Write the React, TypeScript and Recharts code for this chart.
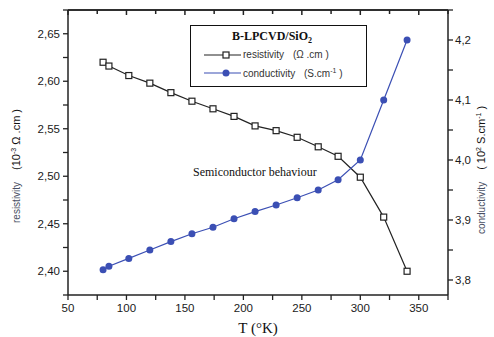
import { ComposedChart, Legend, Line, ReferenceLine, XAxis, YAxis } from "recharts"

document.body.style.margin = "0"

// temperature (K) and the two measured series
const temperature = [80, 85, 102, 120, 138, 156, 174, 192, 210, 228, 246, 264, 281, 300, 320, 340]
const resistivity = [2.62, 2.616, 2.606, 2.598, 2.588, 2.579, 2.571, 2.563, 2.553, 2.548, 2.541, 2.531, 2.521, 2.499, 2.457, 2.4]
const conductivity = [3.817, 3.823, 3.836, 3.85, 3.864, 3.877, 3.888, 3.902, 3.914, 3.925, 3.937, 3.95, 3.967, 4.0, 4.1, 4.2]

const xTicks = [50, 75, 100, 125, 150, 175, 200, 225, 250, 275, 300, 325, 350, 375]
const leftTicks = [2.375, 2.4, 2.425, 2.45, 2.475, 2.5, 2.525, 2.55, 2.575, 2.6, 2.625, 2.65, 2.675]
const rightTicks = [3.8, 3.85, 3.9, 3.95, 4.0, 4.05, 4.1, 4.15, 4.2, 4.25]

const data = temperature.map((t, i) => ({ t, res: resistivity[i], cond: conductivity[i] }))

const AXIS = "#222"
const BLUE = "#3b4fb4"
const SANS = "'Liberation Sans', Arial, sans-serif"
const SERIF = "'Liberation Serif', 'Times New Roman', serif"

const comma = (v: number, digits: number) => v.toFixed(digits).replace(".", ",")

function BottomText({ x, y, payload }: any) {
  if (payload.value % 50 !== 0 || payload.value > 350) return <g />
  return (
    <text x={x} y={y + 9} textAnchor="middle" fontSize={11.5} fontFamily={SANS} fill="#1a1a1a">
      {payload.value}
    </text>
  )
}

function TopTick({ x, y, payload }: any) {
  const major = payload.value % 50 === 0
  return (
    <g>
      <line x1={x} x2={x} y1={y} y2={y + (major ? 5 : 4)} stroke={AXIS} strokeWidth={1.5} />
    </g>
  )
}

function LeftText({ x, y, payload }: any) {
  if (Math.round(payload.value * 1000) % 50 !== 0) return <g />
  return (
    <text x={x} y={y + 4} textAnchor="end" fontSize={11.5} fontFamily={SANS} fill="#1a1a1a">
      {comma(payload.value, 2)}
    </text>
  )
}

function RightText({ x, y, payload }: any) {
  if (Math.round(payload.value * 100) % 10 !== 0 || payload.value > 4.2) return <g />
  return (
    <text x={x} y={y + 4} textAnchor="start" fontSize={11.5} fontFamily={SANS} fill="#1a1a1a">
      {comma(payload.value, 1)}
    </text>
  )
}

function SquareDot({ cx, cy }: any) {
  return <rect x={cx - 3} y={cy - 3} width={6} height={6} fill="#fff" stroke="#222" strokeWidth={1.2} />
}

function LegendBox() {
  return (
    <div
      style={{
        width: 175,
        height: 60,
        border: "1.3px solid #111",
        background: "#fff",
        position: "relative",
        fontFamily: SANS,
        fontSize: 10,
        color: "#333",
      }}
    >
      <div style={{ position: "absolute", left: 41, top: 3, fontFamily: SERIF, fontWeight: 700, fontSize: 12, color: "#111" }}>
        B-LPCVD/SiO<sub style={{ fontSize: 8 }}>2</sub>
      </div>
      <svg width={50} height={60} style={{ position: "absolute", left: 0, top: 0 }}>
        <line x1={13} x2={50} y1={29} y2={29} stroke="#222" strokeWidth={1.2} />
        <rect x={32} y={26} width={6} height={6} fill="#fff" stroke="#222" strokeWidth={1.2} />
        <line x1={13} x2={50} y1={47} y2={47} stroke={BLUE} strokeWidth={1.2} />
        <circle cx={35} cy={47} r={3.5} fill={BLUE} />
      </svg>
      <div style={{ position: "absolute", left: 52, top: 23, whiteSpace: "nowrap" }}>
        resistivity <span style={{ marginLeft: 6 }}>(Ω .cm )</span>
      </div>
      <div style={{ position: "absolute", left: 52, top: 41, whiteSpace: "nowrap" }}>
        conductivity <span style={{ marginLeft: 6 }}>(S.cm<sup style={{ fontSize: 7 }}>-1</sup> )</span>
      </div>
    </div>
  )
}

// axis titles and the annotation, drawn over the chart
function Annotations() {
  return (
    <svg width={494} height={337} style={{ position: "absolute", left: 0, top: 0, pointerEvents: "none" }}>
      <text x={258} y={333} textAnchor="middle" fontFamily={SERIF} fontSize={15} fill="#111">
        T (°K)
      </text>
      <text x={20} y={166} transform="rotate(-90 20 166)" textAnchor="middle" fontFamily={SANS} fontSize={11} fill="#111">
        <tspan fill="#4a4f63" fontSize={10}>resistivity</tspan>
        <tspan dx={12}>(10</tspan>
        <tspan dy={-4} fontSize={7}>-3</tspan>
        <tspan dy={4}> Ω .cm )</tspan>
      </text>
      <text x={485} y={170} transform="rotate(-90 485 170)" textAnchor="middle" fontFamily={SANS} fontSize={11} fill="#111">
        <tspan fill="#4a4f63" fontSize={10}>conductivity</tspan>
        <tspan dx={12}>( 10</tspan>
        <tspan dy={-4} fontSize={7}>2</tspan>
        <tspan dy={4}> S.cm</tspan>
        <tspan dy={-4} fontSize={7}>-1</tspan>
        <tspan dy={4}> )</tspan>
      </text>
      <text x={193} y={176} fontFamily={SERIF} fontSize={12} fill="#111">
        Semiconductor behaviour
      </text>
    </svg>
  )
}

export default function App() {
  return (
    <div style={{ position: "relative", width: 494, height: 337 }}>
      <ComposedChart width={494} height={337} data={data} margin={{ top: 0, right: 0, bottom: 0, left: 0 }}>
        <XAxis
          dataKey="t"
          type="number"
          domain={[50, 375]}
          ticks={xTicks}
          interval={0}
          height={42}
          tickSize={5}
          tickMargin={3}
          tickLine={{ stroke: AXIS, strokeWidth: 1.3 }}
          axisLine={{ stroke: AXIS, strokeWidth: 1.5 }}
          tick={<BottomText />}
        />
        <XAxis
          xAxisId="top"
          dataKey="t"
          type="number"
          orientation="top"
          domain={[50, 375]}
          ticks={xTicks}
          interval={0}
          height={10}
          tickSize={0}
          tickMargin={0}
          tickLine={false}
          axisLine={{ stroke: AXIS, strokeWidth: 1.5 }}
          tick={<TopTick />}
        />
        <YAxis
          yAxisId="left"
          type="number"
          domain={[2.375, 2.675]}
          ticks={leftTicks}
          interval={0}
          width={68}
          tickSize={5}
          tickMargin={3}
          tickLine={{ stroke: AXIS, strokeWidth: 1.3 }}
          axisLine={{ stroke: AXIS, strokeWidth: 1.5 }}
          tick={<LeftText />}
        />
        <YAxis
          yAxisId="right"
          orientation="right"
          type="number"
          domain={[3.775, 4.25]}
          ticks={rightTicks}
          interval={0}
          width={46}
          tickSize={5}
          tickMargin={2}
          tickLine={{ stroke: AXIS, strokeWidth: 1.3 }}
          axisLine={{ stroke: AXIS, strokeWidth: 1.5 }}
          tick={<RightText />}
        />
        <ReferenceLine yAxisId="left" y={2.675} stroke={AXIS} strokeWidth={1.5} ifOverflow="visible" />
        <Legend
          layout="vertical"
          align="center"
          verticalAlign="middle"
          wrapperStyle={{ left: 190, top: 25, width: 177, height: 62 }}
          content={() => <LegendBox />}
        />
        {/* invisible series tied to the top axis so it gets drawn */}
        <Line
          xAxisId="top"
          yAxisId="left"
          dataKey="res"
          stroke="none"
          dot={false}
          activeDot={false}
          legendType="none"
          isAnimationActive={false}
        />
        <Line
          yAxisId="left"
          dataKey="res"
          stroke="#222"
          strokeWidth={1.2}
          dot={<SquareDot />}
          isAnimationActive={false}
        />
        <Line
          yAxisId="right"
          dataKey="cond"
          stroke={BLUE}
          strokeWidth={1.2}
          dot={{ r: 3.5, fill: BLUE, stroke: BLUE, strokeWidth: 0 }}
          isAnimationActive={false}
        />
      </ComposedChart>
      <Annotations />
    </div>
  )
}
